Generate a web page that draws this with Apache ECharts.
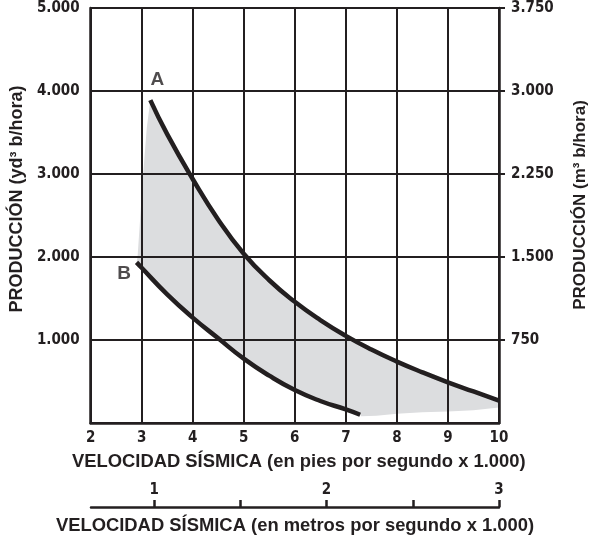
<!DOCTYPE html>
<html><head><meta charset="utf-8">
<script src="https://cdn.jsdelivr.net/npm/echarts@6/dist/echarts.min.js"></script>
<style>html,body{margin:0;padding:0;background:#fff}#c{width:597px;height:542px}</style>
</head><body><div id="c"></div>
<script>
// Tick labels
const speedTicksFt = [2,3,4,5,6,7,8,9,10];
const prodYd3Ticks = [1000,2000,3000,4000,5000];
const prodM3Ticks = [750,1500,2250,3000,3750];
const speedTicksM = [1,1.5,2,2.5,3];
const speedLabelsM = [1,2,3];

// Curve A (upper)
const curveASpeed = [3.17,3.5,4,4.5,5,5.5,6,6.5,7,7.5,8,8.5,9,9.5,10];
const curveAProd  = [3890,3480,2940,2450,2040,1720,1460,1240,1050,885,740,610,490,380,270];
// Curve B (lower)
const curveBSpeed = [2.9,3,3.5,4,4.5,5,5.5,6,6.5,7,7.28];
const curveBProd  = [1935,1870,1550,1270,1020,775,570,397,265,163,99];
// Shaded band extra boundary
const fillLeftSpeed = [2.92,3.03,3.10];
const fillLeftProd  = [2000,3000,3550];
const fillBottomSpeed = [10,9.5,9,8.5,8,7.6,7.3];
const fillBottomProd  = [188,155,140,130,112,88,80];

const curveLabels = ['A','B'];

const ink = '#231f20';
const tickFont = {fontFamily:"'Liberation Sans Narrow','DejaVu Sans Condensed',sans-serif", fontWeight:'bold', fontSize:15, color:ink};
const titleFont = {fontFamily:"'Liberation Sans',Arial,sans-serif", fontWeight:'bold', fontSize:18.4, color:ink};
const fmt = v => String(v).replace(/\B(?=(\d{3})+(?!\d))/g,'.');

const pairs = (xs, ys) => xs.map((x,i)=>[x, ys[i]]);
const aPts = pairs(curveASpeed, curveAProd);
const bPts = pairs(curveBSpeed, curveBProd);
const fillPoly = [].concat(
  [bPts[0]],
  pairs(fillLeftSpeed, fillLeftProd),
  aPts,
  pairs(fillBottomSpeed, fillBottomProd),
  bPts.slice().reverse()
);

const chart = echarts.init(document.getElementById('c'), null, {renderer:'canvas'});
chart.setOption({
  animation:false,
  grid:[{left:88, right:97, top:8, bottom:119}, {left:91, right:98, bottom:35, height:10}],
  xAxis:[{
    gridIndex:0, type:'value', min:2, max:10, interval:1,
    axisLine:{show:true, onZero:false, lineStyle:{color:ink,width:2.5}},
    axisTick:{show:false},
    axisLabel:{...tickFont, margin:8, customValues:speedTicksFt},
    splitLine:{show:true, lineStyle:{color:ink,width:2}},
    name:'VELOCIDAD SÍSMICA (en pies por segundo x 1.000)', nameLocation:'middle', nameGap:30,
    nameTextStyle:{...titleFont, padding:[0,0,0,8]}
  },{
    gridIndex:1, type:'value', min:0.634, max:3, position:'bottom',
    axisLine:{show:true, onZero:false, lineStyle:{color:ink,width:2.5}},
    axisTick:{show:true, inside:true, length:7, customValues:speedTicksM, lineStyle:{color:ink,width:2.5}},
    axisLabel:{...tickFont, inside:true, margin:9, customValues:speedLabelsM},
    splitLine:{show:false},
    name:'VELOCIDAD SÍSMICA (en metros por segundo x 1.000)', nameLocation:'middle', nameGap:10, nameTextStyle:titleFont
  }],
  yAxis:[{
    gridIndex:0, type:'value', min:0, max:5000, interval:1000, position:'left',
    axisLine:{show:true, onZero:false, lineStyle:{color:ink,width:2.5}},
    axisTick:{show:false},
    axisLabel:{...tickFont, margin:11, customValues:prodYd3Ticks, formatter:fmt},
    splitLine:{show:true, lineStyle:{color:ink,width:2}},
    name:'PRODUCCIÓN (yd³ b/hora)', nameLocation:'middle', nameRotate:90, nameGap:53,
    nameTextStyle:{...titleFont, fontSize:18, padding:[0,0,0,33]}
  },{
    gridIndex:0, type:'value', min:0, max:3750, interval:750, position:'right',
    axisLine:{show:true, onZero:false, lineStyle:{color:ink,width:2.5}},
    axisTick:{show:true, length:6, customValues:prodM3Ticks, lineStyle:{color:ink,width:2}},
    axisLabel:{...tickFont, margin:12, customValues:prodM3Ticks, formatter:fmt},
    splitLine:{show:false},
    name:'PRODUCCIÓN (m³ b/hora)', nameLocation:'middle', nameRotate:90, nameGap:73,
    nameTextStyle:{...titleFont, fontSize:17, padding:[0,0,0,21]}
  },{
    gridIndex:1, type:'value', show:false, min:0, max:1
  }],
  series:[{
    type:'custom', xAxisIndex:0, yAxisIndex:0, z:-1, silent:true,
    data:[[5,2000]],
    renderItem:(params, api) => ({
      type:'polygon',
      shape:{points: fillPoly.map(p => api.coord(p))},
      style:{fill:'#dcdddf'}
    })
  },{
    type:'line', xAxisIndex:0, yAxisIndex:0, data:aPts, smooth:0.5, symbol:'none',
    lineStyle:{color:ink, width:4.5}, z:3
  },{
    type:'line', xAxisIndex:0, yAxisIndex:0, data:bPts, smooth:0.5, symbol:'none',
    lineStyle:{color:ink, width:4.5}, z:3
  },{
    type:'scatter', xAxisIndex:0, yAxisIndex:0, symbolSize:1, itemStyle:{color:'rgba(0,0,0,0)'}, z:4,
    data:[
      {name:curveLabels[0], value:aPts[0], label:{show:true, position:'top', distance:10, offset:[7,0]}},
      {name:curveLabels[1], value:bPts[0], label:{show:true, position:'left', distance:4, offset:[-1,11]}}
    ],
    label:{formatter:'{b}', fontFamily:"'Liberation Sans',Arial,sans-serif", fontWeight:'bold', fontSize:19, color:ink}
  }]
});
</script>
</body></html>
